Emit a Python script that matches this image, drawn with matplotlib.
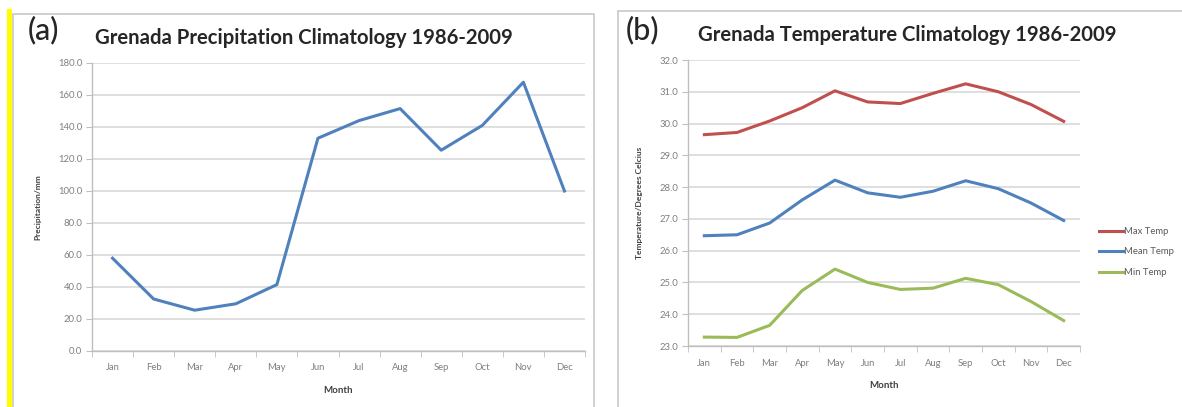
import matplotlib.pyplot as plt
from matplotlib.patches import Rectangle
import numpy as np

months = ['Jan', 'Feb', 'Mar', 'Apr', 'May', 'Jun', 'Jul', 'Aug', 'Sep', 'Oct', 'Nov', 'Dec']
precip = [58.0, 32.5, 25.5, 29.5, 41.5, 133.0, 144.0, 151.5, 125.5, 141.0, 168.0, 100.0]
max_temp = [29.65, 29.72, 30.08, 30.50, 31.03, 30.68, 30.63, 30.95, 31.25, 31.00, 30.60, 30.07]
mean_temp = [26.47, 26.50, 26.87, 27.60, 28.22, 27.82, 27.68, 27.87, 28.20, 27.95, 27.50, 26.95]
min_temp = [23.28, 23.27, 23.65, 24.75, 25.42, 25.00, 24.78, 24.82, 25.13, 24.93, 24.40, 23.80]

plt.rcParams['font.family'] = ['Lato', 'DejaVu Sans']

W, H = 1182, 407
fig = plt.figure(figsize=(W / 100, H / 100), dpi=100)
fig.patch.set_facecolor('white')

def fx(px):
    return px / W

def fy(py):
    return 1 - py / H

# yellow bar and panel frames
fig.patches.append(Rectangle((fx(7), 0), fx(5), fy(9), transform=fig.transFigure,
                             facecolor='#ffff00', edgecolor='none', zorder=0))
fig.patches.append(Rectangle((fx(12.5), -0.01), fx(581), fy(13.5) + 0.01, transform=fig.transFigure,
                             facecolor='none', edgecolor='#c8c8c8', lw=1.2, zorder=0))
fig.patches.append(Rectangle((fx(617.5), -0.01), fx(600), fy(10.5) + 0.01, transform=fig.transFigure,
                             facecolor='none', edgecolor='#c8c8c8', lw=1.2, zorder=0))

tick_col = '#7f7f7f'
grid_col = '#d9d9d9'


def style_axes(ax, ymin, ymax, step):
    x = np.arange(len(months))
    ax.set_xlim(-0.5, len(months) - 0.5)
    ax.set_ylim(ymin, ymax)
    ax.set_yticks(np.arange(ymin, ymax + step / 2, step))
    ax.set_yticklabels([f'{v:.1f}' for v in np.arange(ymin, ymax + step / 2, step)])
    ax.set_xticks(x)
    ax.set_xticklabels(months)
    ax.set_xticks(np.arange(-0.5, len(months)), minor=True)
    ax.tick_params(axis='x', which='major', length=0, pad=9, labelsize=6.8, colors=tick_col)
    ax.tick_params(axis='x', which='minor', length=4, color='#bfbfbf', direction='out')
    ax.tick_params(axis='y', length=4, color='#bfbfbf', labelsize=6.8, colors=tick_col, pad=3)
    ax.grid(axis='y', color=grid_col, lw=1.2)
    ax.set_axisbelow(True)
    for s in ['top', 'right']:
        ax.spines[s].set_visible(False)
    for s in ['left', 'bottom']:
        ax.spines[s].set_color('#bfbfbf')
        ax.spines[s].set_linewidth(1.0)
    ax.set_xlabel('Month', fontsize=7, fontweight='bold', color='#404040', labelpad=10)


# (a) precipitation
ax1 = fig.add_axes([fx(92), fy(351), fx(585 - 92), fy(63) - fy(351)])
style_axes(ax1, 0, 180, 20)
ax1.plot(range(12), precip, color='#4f81bd', lw=2.2)
ax1.set_ylabel('Precipitation/mm', fontsize=6, fontweight='bold', color='#404040', labelpad=12)
fig.text(fx(28), fy(30), '(a)', fontsize=22, fontweight='medium', color='#262626',
         va='center', ha='left')
fig.text(fx(95), fy(38), 'Grenada Precipitation Climatology 1986-2009', fontsize=14.6,
         fontweight='bold', color='#262626', va='center', ha='left')

# (b) temperature
ax2 = fig.add_axes([fx(688), fy(346), fx(1080 - 688), fy(60) - fy(346)])
style_axes(ax2, 23, 32, 1)
ax2.plot(range(12), max_temp, color='#c0504d', lw=2.2, label='Max Temp')
ax2.plot(range(12), mean_temp, color='#4f81bd', lw=2.2, label='Mean Temp')
ax2.plot(range(12), min_temp, color='#9bbb59', lw=2.2, label='Min Temp')
ax2.set_ylabel('Temperature/Degrees Celcius', fontsize=6, fontweight='bold', color='#404040', labelpad=12)
fig.text(fx(626), fy(30), '(b)', fontsize=22, fontweight='medium', color='#262626',
         va='center', ha='left')
fig.text(fx(698), fy(35), 'Grenada Temperature Climatology 1986-2009', fontsize=14.6,
         fontweight='bold', color='#262626', va='center', ha='left')

leg = ax2.legend(loc='center left', bbox_to_anchor=(fx(1090), fy(252)),
                 bbox_transform=fig.transFigure, frameon=False, fontsize=6.8,
                 handlelength=2.6, handletextpad=0.1, labelspacing=1.2)
for t in leg.get_texts():
    t.set_color('#595959')

fig.savefig('out.png', dpi=100)
